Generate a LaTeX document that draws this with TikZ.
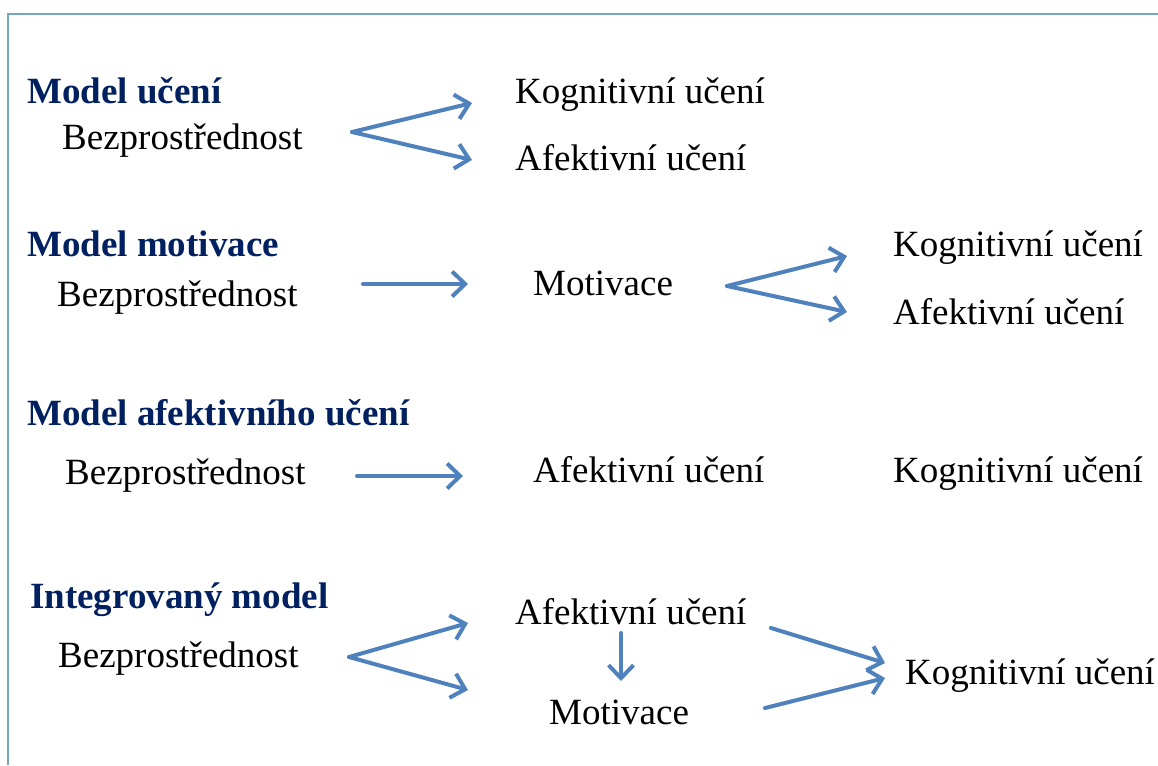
\documentclass[tikz,border=0pt]{standalone}
\usepackage{fontspec}
\setmainfont{Liberation Serif}
\usetikzlibrary{arrows.meta}
\definecolor{navy}{HTML}{002060}
\definecolor{arrowblue}{HTML}{4F81BD}
\definecolor{frame}{HTML}{72A8BC}
\tikzset{
  txt/.style={anchor=base west, inner sep=0pt, font=\fontsize{37}{44}\selectfont},
  ttl/.style={txt, font=\fontsize{37}{44}\selectfont\bfseries, text=navy},
  link/.style={draw=arrowblue, line width=4pt, line cap=round, line join=round,
    -{Straight Barb[length=13pt,width=25pt,line width=4pt]}},
}
\begin{document}
\begin{tikzpicture}[x=1pt,y=-1pt]
\useasboundingbox (0,0) rectangle (1158,765);
% frame lines at top and left
\draw[frame, line width=1.6pt] (8,765) -- (8,14) -- (1158,14);

% Model učení
\node[ttl] (t1) at (27,103) {Model učení};
\node[txt] (b1) at (62,149) {Bezprostřednost};
\node[txt] (k1) at (515,104) {Kognitivní učení};
\node[txt] (a1) at (515,170) {Afektivní učení};
\coordinate (f1) at (352,132);
\coordinate (f1k) at (472,103);
\coordinate (f1a) at (472,160);
\draw[link] (f1) -- (f1k);
\draw[link] (f1) -- (f1a);

% Model motivace
\node[ttl] (t2) at (27,256) {Model motivace};
\node[txt] (b2) at (57,306) {Bezprostřednost};
\node[txt] (m2) at (533,295) {Motivace};
\node[txt] (k2) at (893,256) {Kognitivní učení};
\node[txt] (a2) at (893,324) {Afektivní učení};
\coordinate (s2) at (363,284);
\coordinate (e2) at (468,284);
\draw[link] (s2) -- (e2);
\coordinate (f2) at (727,286);
\coordinate (f2k) at (847,256);
\coordinate (f2a) at (847,312);
\draw[link] (f2) -- (f2k);
\draw[link] (f2) -- (f2a);

% Model afektivního učení
\node[ttl] (t3) at (27,425) {Model afektivního učení};
\node[txt] (b3) at (65,484) {Bezprostřednost};
\node[txt] (a3) at (533,482) {Afektivní učení};
\node[txt] (k3) at (893,482) {Kognitivní učení};
\coordinate (s3) at (357,476);
\coordinate (e3) at (463,476);
\draw[link] (s3) -- (e3);

% Integrovaný model
\node[ttl] (t4) at (30,608) {Integrovaný model};
\node[txt] (b4) at (58,667) {Bezprostřednost};
\node[txt] (a4) at (515,624) {Afektivní učení};
\node[txt] (m4) at (549,724) {Motivace};
\node[txt] (k4) at (905,684) {Kognitivní učení};
\coordinate (f4) at (349,657);
\coordinate (f4a) at (468,623);
\coordinate (f4m) at (468,690);
\draw[link] (f4) -- (f4a);
\draw[link] (f4) -- (f4m);
\coordinate (d4s) at (621,633);
\coordinate (d4e) at (621,681);
\draw[link] (d4s) -- (d4e);
\coordinate (ak4s) at (771,628);
\coordinate (ak4e) at (885,663);
\draw[link] (ak4s) -- (ak4e);
\coordinate (mk4s) at (765,708);
\coordinate (mk4e) at (885,678);
\draw[link] (mk4s) -- (mk4e);
\end{tikzpicture}
\end{document}
